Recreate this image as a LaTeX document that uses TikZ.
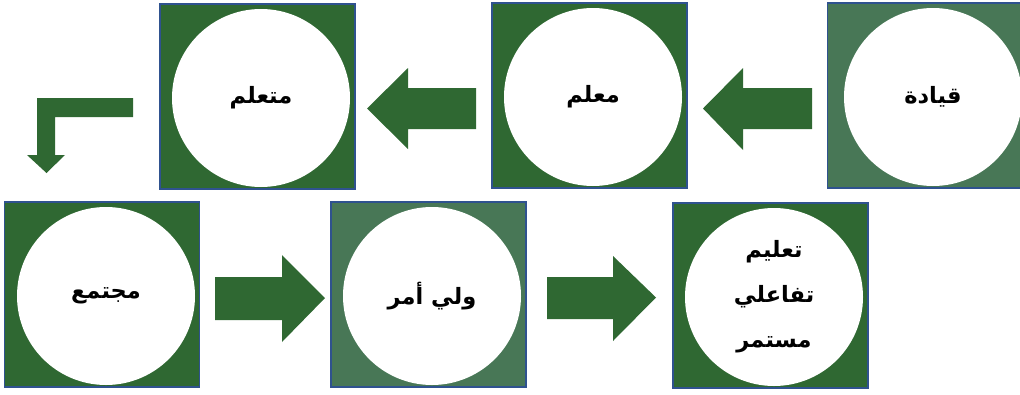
\documentclass[tikz,border=0pt]{standalone}
\usepackage{fontspec}
\TeXXeTstate=1
\newfontfamily\arabicfont[Script=Arabic]{DejaVu Sans}
\definecolor{gdark}{RGB}{47,104,50}
\definecolor{glight}{RGB}{72,119,86}
\definecolor{bblue}{RGB}{47,82,143}
\tikzset{
  sq/.style={rectangle, draw=bblue, line width=1.2pt, minimum width=195pt, minimum height=185pt, inner sep=0pt},
  circ/.style={circle, fill=white, minimum size=178pt, inner sep=0pt, font=\arabicfont\bfseries\fontsize{22.5}{45}\selectfont, align=center},
  blockarrow/.style={fill=gdark, draw=none}
}
\begin{document}
\begin{tikzpicture}[x=1pt,y=-1pt]
\useasboundingbox (0,0) rectangle (1020,394);
% top row
\node[sq, fill=gdark] (s1) at (257.5,96.5) {};
\node[circ] (c1) at (261,98) {\beginR متعلم\endR};
\node[sq, fill=gdark] (s2) at (589.5,95.5) {};
\node[circ] (c2) at (593,97) {\beginR معلم\endR};
\node[sq, fill=glight] (s3) at (925,95.5) {};
\node[circ] (c3) at (933,97) {\beginR قيادة\endR};
% bottom row
\node[sq, fill=gdark] (s4) at (102,294.5) {};
\node[circ] (c4) at (106,296) {\beginR مجتمع\endR};
\node[sq, fill=glight] (s5) at (428.5,294.5) {};
\node[circ] (c5) at (432,296) {\beginR ولي أمر\endR};
\node[sq, fill=gdark] (s6) at (770.5,295.5) {};
\node[circ] (c6) at (774,297) {\beginR تعليم\endR\\\beginR تفاعلي\endR\\\beginR مستمر\endR};
% arrows top (pointing left)
\fill[blockarrow] (476,88) -- (408,88) -- (408,68) -- (367,108.5) -- (408,149) -- (408,129) -- (476,129) -- cycle;
\fill[blockarrow] (812,88) -- (743,88) -- (743,68) -- (703,108.5) -- (743,150) -- (743,129) -- (812,129) -- cycle;
% bent arrow
\fill[blockarrow] (133,98) -- (37,98) -- (37,155) -- (27,155) -- (46.5,173) -- (65,155) -- (55,155) -- (55,117) -- (133,117) -- cycle;
% arrows bottom (pointing right)
\fill[blockarrow] (215,277) -- (282,277) -- (282,255) -- (325,298) -- (282,342) -- (282,320) -- (215,320) -- cycle;
\fill[blockarrow] (547,277) -- (613,277) -- (613,256) -- (656,297.5) -- (613,341) -- (613,319) -- (547,319) -- cycle;
\end{tikzpicture}
\end{document}
